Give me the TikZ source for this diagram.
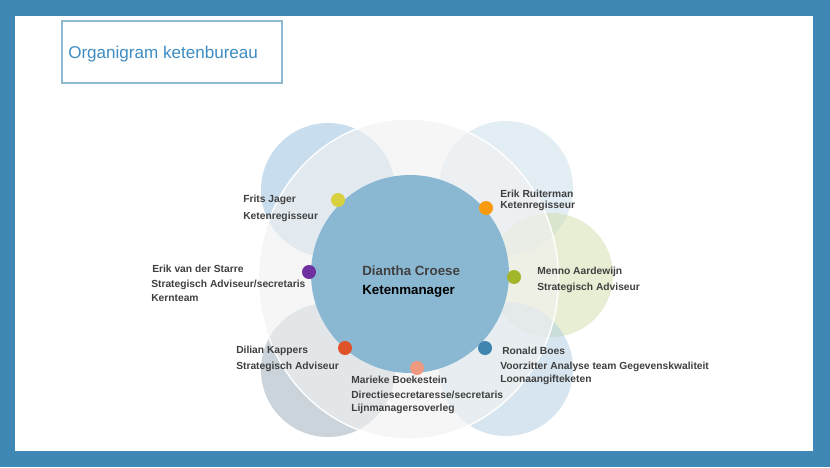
\documentclass[tikz,border=0pt]{standalone}
\usepackage{fontspec}
\setmainfont{Liberation Sans}
\definecolor{frame}{HTML}{3F88B5}
\definecolor{titleline}{HTML}{8EB9D5}
\definecolor{titletext}{HTML}{3E8DC2}
\definecolor{labelgrey}{HTML}{404040}
\definecolor{centre}{HTML}{8AB8D3}
\definecolor{bigring}{HTML}{F2F2F2}
\definecolor{tlblue}{HTML}{93BFDF}
\definecolor{trblue}{HTML}{C7DDEB}
\definecolor{rgreen}{HTML}{D3DFAB}
\definecolor{brblue}{HTML}{AFCDE1}
\definecolor{blgrey}{HTML}{97ABB7}
\definecolor{dotyellow}{HTML}{D9D040}
\definecolor{dotorange}{HTML}{F99B0C}
\definecolor{dotpurple}{HTML}{7030A0}
\definecolor{dotgreen}{HTML}{A3B52A}
\definecolor{dotred}{HTML}{E0522A}
\definecolor{dotblue}{HTML}{3E85B0}
\definecolor{dotsalmon}{HTML}{EF9A80}
\tikzset{
  lbl/.style={anchor=base west, inner sep=0pt, text=labelgrey,
    font=\fontsize{7.7pt}{9pt}\selectfont\bfseries},
  dot/.style={circle, inner sep=0pt, minimum size=10.5pt},
  petal/.style={fill opacity=0.5}
}
\begin{document}
\begin{tikzpicture}[x=0.75pt,y=-0.75pt]
\useasboundingbox (0,0) rectangle (830,467);
\fill[frame] (0,0) rectangle (830,467);
\fill[white] (15,16) rectangle (813,451);
\draw[titleline, line width=0.8pt] (62,21) rectangle (282,83);
\node[anchor=base west, inner sep=0pt, text=titletext, font=\fontsize{12.8pt}{15pt}\selectfont] (title) at (68,59) {Organigram ketenbureau};
% background circles
\fill[tlblue, petal] (328,190) circle [radius=50.25pt];
\fill[trblue, petal] (506,188) circle [radius=50.25pt];
\fill[rgreen, petal] (551,275) circle [radius=46.5pt];
\fill[brblue, petal] (506,369) circle [radius=50.25pt];
\fill[blgrey, petal] (328,370) circle [radius=50.25pt];
\draw[white, line width=1pt, fill=bigring, fill opacity=0.63] (408.5,279) ellipse [x radius=112.5pt, y radius=120pt];
\fill[centre] (410,274) circle [radius=74.25pt];
\node[anchor=base west, inner sep=0pt, text=labelgrey, font=\fontsize{10pt}{12pt}\selectfont\bfseries] (diantha) at (362,275) {Diantha Croese};
\node[anchor=base west, inner sep=0pt, text=black, font=\fontsize{10pt}{12pt}\selectfont\bfseries] (manager) at (362,294) {Ketenmanager};
% dots
\node[dot, fill=dotyellow] (fritsdot) at (338,200) {};
\node[dot, fill=dotorange] (erikrdot) at (486,208) {};
\node[dot, fill=dotpurple] (erikvdot) at (309,272) {};
\node[dot, fill=dotgreen] (mennodot) at (514,277) {};
\node[dot, fill=dotred] (diliandot) at (345,348) {};
\node[dot, fill=dotblue] (ronalddot) at (485,348) {};
\node[dot, fill=dotsalmon] (mariekedot) at (417,368) {};
% labels
\node[lbl] (frits) at (243,202.7) {Frits Jager};
\node[lbl] (fritsrole) at (243,219.7) {Ketenregisseur};
\node[lbl] (erikr) at (500,197.7) {Erik Ruiterman};
\node[lbl] (erikrrole) at (500,208.7) {Ketenregisseur};
\node[lbl] (erikv) at (152,272.7) {Erik van der Starre};
\node[lbl] (erikvrole) at (151,287.7) {Strategisch Adviseur/secretaris};
\node[lbl] (erikvteam) at (151,301.7) {Kernteam};
\node[lbl] (menno) at (537,274.7) {Menno Aardewijn};
\node[lbl] (mennorole) at (537,290.7) {Strategisch Adviseur};
\node[lbl] (dilian) at (236,353.7) {Dilian Kappers};
\node[lbl] (dilianrole) at (236,369.7) {Strategisch Adviseur};
\node[lbl] (ronald) at (502,354.7) {Ronald Boes};
\node[lbl] (ronaldrole) at (500,369.7) {Voorzitter Analyse team Gegevenskwaliteit};
\node[lbl] (ronaldteam) at (500,382.7) {Loonaangifteketen};
\node[lbl] (marieke) at (351,383.7) {Marieke Boekestein};
\node[lbl] (mariekerole) at (351,398.7) {Directiesecretaresse/secretaris};
\node[lbl] (marieketeam) at (351,411.7) {Lijnmanagersoverleg};
\end{tikzpicture}
\end{document}
